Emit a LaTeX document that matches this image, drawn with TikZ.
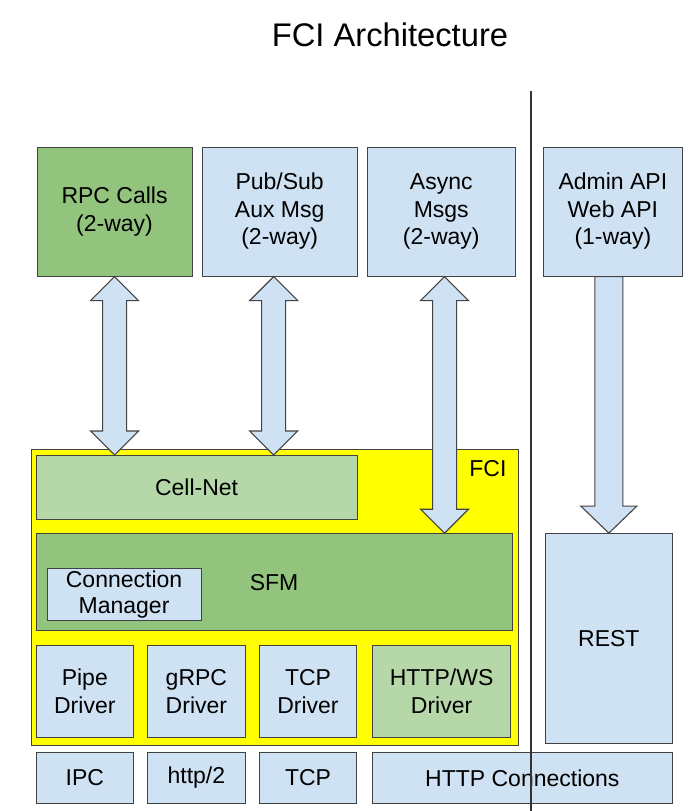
\documentclass[tikz,border=0pt]{standalone}
\usepackage{fontspec}
\setmainfont{Liberation Sans}
\usetikzlibrary{calc,positioning}

\definecolor{boxBlue}{HTML}{CFE2F3}
\definecolor{boxGreen}{HTML}{93C47D}
\definecolor{boxLight}{HTML}{B6D7A8}
\definecolor{fciYellow}{HTML}{FFFF00}
\definecolor{edgeGray}{HTML}{434343}

% block arrows between two nodes
\newcommand\twoway[3]{%
  \path[barrow] let \p1=($(#1.south)+(#3,0)$), \p2=(#2.north) in
    (\x1,\y1) -- (\x1+24pt,\y1-24pt) -- (\x1+12pt,\y1-24pt) -- (\x1+12pt,\y2+24pt)
    -- (\x1+24pt,\y2+24pt) -- (\x1,\y2) -- (\x1-24pt,\y2+24pt) -- (\x1-12pt,\y2+24pt)
    -- (\x1-12pt,\y1-24pt) -- (\x1-24pt,\y1-24pt) -- cycle;}
\newcommand\oneway[2]{%
  \path[barrow] let \p1=(#1.south), \p2=(#2.north) in
    (\x2-14pt,\y1) -- (\x2+14pt,\y1) -- (\x2+14pt,\y2+27pt) -- (\x2+28pt,\y2+27pt)
    -- (\x2,\y2) -- (\x2-28pt,\y2+27pt) -- (\x2-14pt,\y2+27pt) -- cycle;}

\begin{document}
\begin{tikzpicture}[x=1pt, y=-1pt, font=\fontsize{23}{27.5}\selectfont]
  % --- Styles ---
    \tikzset{
      box/.style     = {rectangle,draw=edgeGray,line width=1.1pt,fill=boxBlue,inner sep=0pt,align=center},
      boxG/.style    = {box,fill=boxGreen},
      boxL/.style    = {box,fill=boxLight},
      fcibox/.style  = {rectangle,draw=edgeGray,line width=1.1pt,fill=fciYellow,inner sep=0pt},
      barrow/.style  = {draw=edgeGray,line width=1.1pt,fill=boxBlue,line join=miter},
      divider/.style = {draw=black!80,line width=1.1pt},
      lab/.style     = {inner sep=0pt}
    }
    \useasboundingbox (0,0) rectangle (693,811);

    % --- Title ---
    \node[lab,font=\fontsize{32.7}{38}\selectfont] (title) at (390,35) {FCI Architecture};

    % --- Top row: message types ---
    \node[boxG,anchor=north west,minimum width=155pt,minimum height=129pt] (rpc) at (36.5,146.5) {RPC Calls\\(2-way)};
    \node[box,right=9pt of rpc,minimum width=155pt,minimum height=129pt] (pubsub) {Pub/Sub\\Aux Msg\\(2-way)};
    \node[box,right=9pt of pubsub,minimum width=148pt,minimum height=129pt] (async) {Async\\Msgs\\(2-way)};
    \node[box,right=27pt of async,minimum width=139pt,minimum height=129pt] (admin) {Admin API\\Web API\\(1-way)};

    % --- FCI block ---
    \node[fcibox,anchor=north west,minimum width=487pt,minimum height=296pt] (fci) at (30.5,448.5) {};
    \node[lab,below left=12pt and 12pt of fci.north east] (fcilab) {FCI};
    \node[boxL,below right=6.5pt and 5pt of fci.north west,minimum width=321pt,minimum height=63.5pt] (cellnet) {Cell-Net};
    \node[boxG,below right=13.6pt and 0pt of cellnet.south west,minimum width=476pt,minimum height=97pt] (sfm) {SFM};
    \node[box,below right=34.5pt and 11pt of sfm.north west,minimum width=154pt,minimum height=52.5pt,
          font=\fontsize{23}{26}\selectfont] (connmgr) {Connection\\Manager};

    % --- Drivers ---
    \node[box,below right=13.6pt and 0pt of sfm.south west,minimum width=97.5pt,minimum height=92pt] (pipe) {Pipe\\Driver};
    \node[box,right=13pt of pipe,minimum width=97.5pt,minimum height=92pt] (grpc) {gRPC\\Driver};
    \node[box,right=13pt of grpc,minimum width=97.5pt,minimum height=92pt] (tcpdrv) {TCP\\Driver};
    \node[boxL,right=14.5pt of tcpdrv,minimum width=138.5pt,minimum height=92pt] (httpdrv) {HTTP/WS\\Driver};

    % --- Transports ---
    \node[box,below right=13.6pt and 0pt of pipe.south west,minimum width=97.5pt,minimum height=51.5pt] (ipc) {IPC};
    \node[box,right=13pt of ipc,minimum width=97.5pt,minimum height=51.5pt] (http2) {http/2};
    \node[box,right=13pt of http2,minimum width=97.5pt,minimum height=51.5pt] (tcp) {TCP};
    \node[box,right=14.5pt of tcp,minimum width=300pt,minimum height=51.5pt] (httpconn) {HTTP Connections};

    % --- REST ---
    \node[box,above left=7.4pt and 0pt of httpconn.north east,minimum width=127pt,minimum height=210pt] (rest) {REST};

    % --- Block arrows ---
    \twoway{rpc}{cellnet}{0}
    \twoway{pubsub}{cellnet}{-6}
    \twoway{async}{sfm}{3.3}
    \oneway{admin}{rest}

    % --- Divider ---
    \coordinate (divtop) at (531,91);
    \coordinate (divbot) at (531,811);
    \draw[divider] (divtop) -- (divbot);

\end{tikzpicture}
\end{document}
